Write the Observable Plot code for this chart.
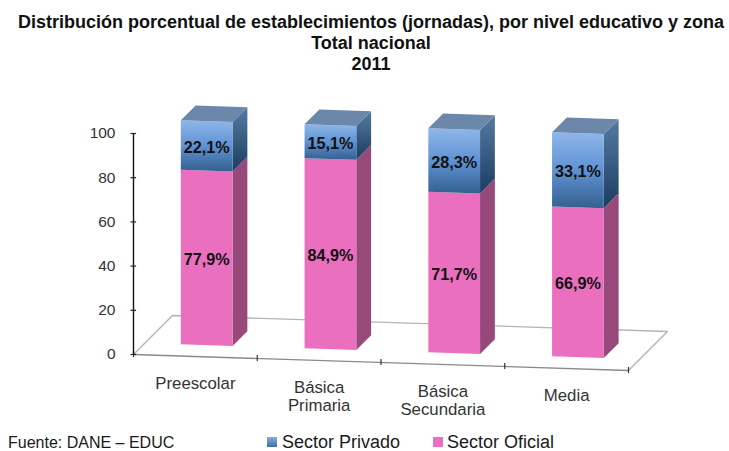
<!DOCTYPE html>
<html>
<head>
<meta charset="utf-8">
<script src="https://cdn.jsdelivr.net/npm/d3@7"></script>
<script src="https://cdn.jsdelivr.net/npm/@observablehq/plot@0.6"></script>
<style>
html,body{margin:0;padding:0;background:#fff;}
#page{position:relative;width:729px;height:451px;overflow:hidden;font-family:"Liberation Sans",Arial,sans-serif;color:#1a1a1a;}
#title{position:absolute;left:0;top:12px;width:742px;text-align:center;font-weight:bold;font-size:18px;line-height:21px;color:#111;white-space:nowrap;}
#chart{position:absolute;left:0;top:78px;}
#chart svg{display:block;}
.foot{position:absolute;white-space:nowrap;}
.sw{position:absolute;width:10px;height:10px;}
</style>
</head>
<body>
<div id="page">
  <div id="title"></div>
  <div id="chart"></div>
  <div class="foot" id="src" style="left:8px;top:434px;font-size:16px;"></div>
  <div class="sw" style="left:267px;top:437px;background:linear-gradient(#86ade2,#3f6ea8);"></div>
  <div class="foot" id="l1" style="left:282px;top:432px;font-size:18px;"></div>
  <div class="sw" style="left:433px;top:437px;background:#ea70bf;"></div>
  <div class="foot" id="l2" style="left:447px;top:432px;font-size:18px;"></div>
</div>
<script>
const titleLines = ["Distribución porcentual de establecimientos (jornadas), por nivel educativo y zona", "Total nacional", "2011"];
const sourceText = "Fuente: DANE – EDUC";
const seriesNames = ["Sector Privado", "Sector Oficial"];
const categories = ["Preescolar", "Básica\nPrimaria", "Básica\nSecundaria", "Media"];
const sectorPrivado = [22.1, 15.1, 28.3, 33.1];
const sectorOficial = [77.9, 84.9, 71.7, 66.9];
const yTicks = [0, 20, 40, 60, 80, 100];

document.getElementById("title").innerHTML = titleLines.join("<br>");
document.getElementById("src").textContent = sourceText;
document.getElementById("l1").textContent = seriesNames[0];
document.getElementById("l2").textContent = seriesNames[1];

// Oblique view of the (category, percent, depth) space, expressed in scale units.
const tilt = 1.81, dxDepth = 0.315, dyDepth = 17.65, barScale = 1.0136;
const barLo = 0.291, barHi = 0.709, zFront = 0.29, zBack = 0.67;
const P = (u, v, z = 0) => ({x: u + z * dxDepth, y: v - tilt * u + z * dyDepth});
const B = (u, v, z) => P(u, v * barScale, z);

const poly = (id, pts) => [...pts, pts[0]].map(p => ({...p, id}));
const privFront = [], privSide = [], offFront = [], offSide = [], topFace = [], labels = [];
categories.forEach((c, i) => {
  const l = i + barLo, r = i + barHi, o = sectorOficial[i], t = o + sectorPrivado[i];
  offFront.push(...poly("o" + i, [B(l, 0, zFront), B(r, 0, zFront), B(r, o, zFront), B(l, o, zFront)]));
  offSide.push(...poly("os" + i, [B(r, 0, zFront), B(r, 0, zBack), B(r, o, zBack), B(r, o, zFront)]));
  privFront.push(...poly("p" + i, [B(l, o, zFront), B(r, o, zFront), B(r, t, zFront), B(l, t, zFront)]));
  privSide.push(...poly("ps" + i, [B(r, o, zFront), B(r, o, zBack), B(r, t, zBack), B(r, t, zFront)]));
  topFace.push(...poly("t" + i, [B(l, t, zFront), B(r, t, zFront), B(r, t, zBack), B(l, t, zBack)]));
  labels.push({...B(i + .5, o / 2, zFront), text: o.toFixed(1).replace(".", ",") + "%"});
  labels.push({...B(i + .5, o + sectorPrivado[i] / 2, zFront), text: sectorPrivado[i].toFixed(1).replace(".", ",") + "%"});
});
const n = categories.length;
const floorBack = [P(0, 0, 0), P(0, 0, 1), P(n, 0, 1), P(n, 0, 0)];
const floorFront = [P(0, 0, 0), P(n, 0, 0)];
const catTicks = d3.range(n + 1).map(u => P(u, 0, 0));
const catLabels = categories.map((c, i) => ({...P(i + .5, 0, 0), text: c}));

function gradient(id, stops) {
  const defs = d3.create("svg:defs");
  const g = defs.append("linearGradient").attr("id", id).attr("x1", 0).attr("y1", 0).attr("x2", 0).attr("y2", 1);
  stops.forEach(([o, c]) => g.append("stop").attr("offset", o).attr("stop-color", c));
  return defs.node();
}
const face = (data, fill) => Plot.line(data, {x: "x", y: "y", z: "id", fill, stroke: "none", curve: "linear"});

const chart = Plot.plot({
  width: 729,
  height: 349,
  marginLeft: 133,
  marginRight: 101,
  marginTop: 55,
  marginBottom: 73,
  style: {background: "transparent", fontFamily: '"Liberation Sans",Arial,sans-serif'},
  x: {domain: [0, 4], axis: null},
  y: {domain: [0, 100], axis: null},
  marks: [
    () => gradient("gFront", [[0, "#8fb6e9"], [.5, "#5f92d3"], [1, "#35608f"]]),
    () => gradient("gSide", [[0, "#557ba3"], [1, "#1c3c60"]]),
    Plot.line(floorBack, {x: "x", y: "y", stroke: "#b4b4b4", strokeWidth: 1.4}),
    Plot.line(floorFront, {x: "x", y: "y", stroke: "#8a8a8a", strokeWidth: 1.4}),
    Plot.ruleX(catTicks, {x: "x", y1: d => d.y + 1.4, y2: d => d.y - 1.4, stroke: "#333", strokeWidth: 1.2}),
    face(offSide, "#974a7a"),
    face(offFront, "#ea70bf"),
    face(privSide, "url(#gSide)"),
    face(privFront, "url(#gFront)"),
    face(topFace, "#6b88ab"),
    Plot.ruleX([0], {y1: 0, y2: 100, stroke: "#111", strokeWidth: 1.4}),
    Plot.ruleY(yTicks, {y: d => d, x1: -0.02, x2: 0.025, stroke: "#222", strokeWidth: 1.2}),
    Plot.axisY({ticks: yTicks, anchor: "left", tickSize: 0, tickPadding: 18, label: null, fontSize: 15.5, fill: "#333"}),
    Plot.text(labels, {x: "x", y: "y", text: "text", dy: 1.5, fontSize: 16.2, fontWeight: "bold", fill: "#111"}),
    Plot.text(catLabels, {x: "x", y: "y", text: "text", dy: 19.5, lineAnchor: "top", lineHeight: 1.08, fontSize: 16.8, fill: "#333"})
  ]
});
document.getElementById("chart").appendChild(chart);
</script>
</body>
</html>
